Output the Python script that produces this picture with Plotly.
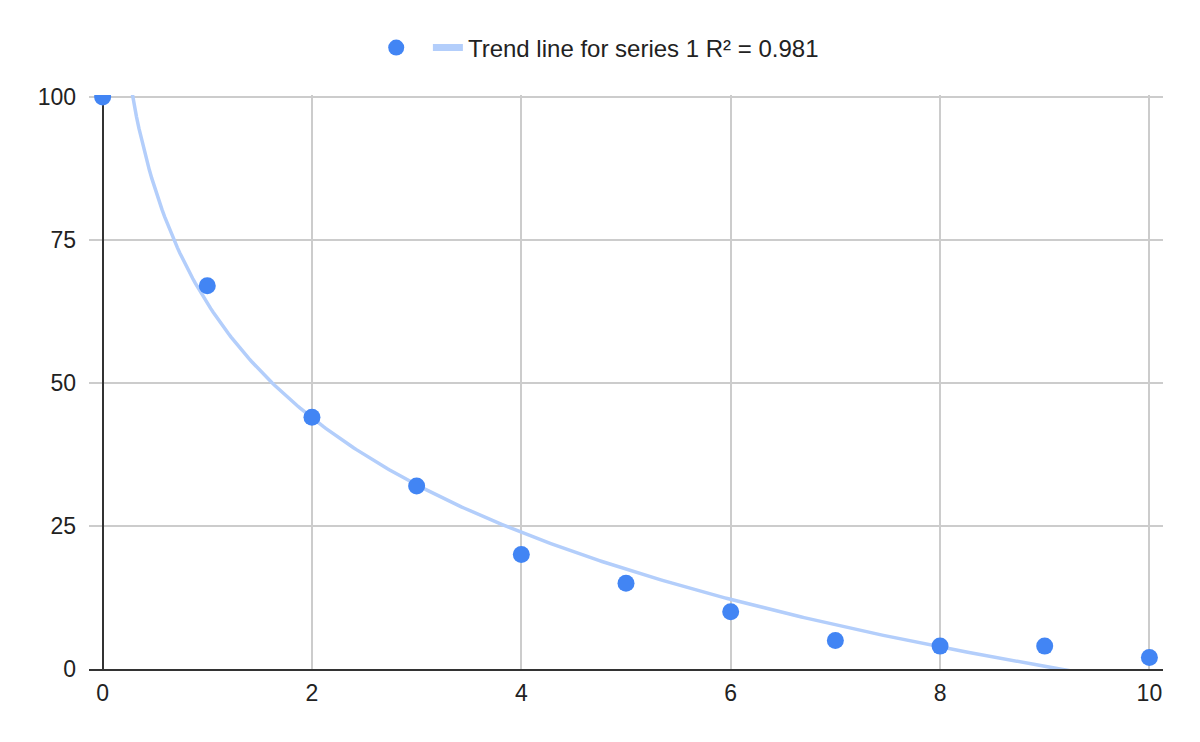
import numpy as np
import plotly.graph_objects as go

# series 1
x_vals = [0, 1, 2, 3, 4, 5, 6, 7, 8, 9, 10]
y_vals = [100, 67, 44, 32, 20, 15, 10, 5, 4, 4, 2]

x_ticks = [0, 2, 4, 6, 8, 10]
y_ticks = [0, 25, 50, 75, 100]

# logarithmic trend line, fitted like the sheet does (x > 0 only)
xs = np.array([x for x in x_vals if x > 0], dtype=float)
ys = np.array([y for x, y in zip(x_vals, y_vals) if x > 0], dtype=float)
a, b = np.polyfit(np.log(xs), ys, 1)
r2 = np.corrcoef(np.log(xs), ys)[0, 1] ** 2

trend_x = np.linspace(0.25, 10, 400)
trend_y = a * np.log(trend_x) + b
trend_name = f"Trend line for series 1 R² = {r2:.3f}"

BLUE = "#4285F4"
TREND = "#b3cefb"
FONT = "Liberation Sans, Arial, sans-serif"

fig = go.Figure()

fig.add_trace(go.Scatter(
    x=trend_x, y=trend_y,
    mode="lines",
    line=dict(color=TREND, width=3.5),
    name=trend_name,
    legendgroup="trend",
    showlegend=False,
    hoverinfo="skip",
))
# legend-only entry so the legend swatch can be thicker than the curve
fig.add_trace(go.Scatter(
    x=[None], y=[None],
    mode="lines",
    line=dict(color=TREND, width=7),
    name=trend_name,
    legendgroup="trend",
))

fig.add_trace(go.Scatter(
    x=x_vals, y=y_vals,
    mode="markers",
    marker=dict(color=BLUE, size=17),
    name=" ",
    cliponaxis=True,
))

fig.update_layout(
    width=1200, height=742,
    margin=dict(l=81, r=45, t=87, b=81),
    paper_bgcolor="white",
    plot_bgcolor="white",
    font=dict(family=FONT, size=23, color="#222222"),
    legend=dict(
        orientation="h",
        x=0.476, xanchor="center",
        y=1.082, yanchor="middle",
        traceorder="reversed",
        font=dict(size=24, color="#222222"),
        itemsizing="trace",
    ),
    showlegend=True,
)

fig.update_xaxes(
    range=[-0.13, 10.13],
    tickvals=x_ticks,
    showgrid=True, gridcolor="#cccccc", gridwidth=1.5,
    zeroline=True, zerolinecolor="#333333", zerolinewidth=2,
    showline=True, linecolor="#333333", linewidth=2,
    ticks="", ticklabelstandoff=2,
    tickfont=dict(size=23, color="#222222"),
)
fig.update_yaxes(
    range=[0, 100.35],
    tickvals=y_ticks,
    showgrid=True, gridcolor="#cccccc", gridwidth=1.5,
    zeroline=False, showline=False,
    ticks="", ticklabelstandoff=12,
    tickfont=dict(size=23, color="#222222"),
)

fig.write_html("out.html")
